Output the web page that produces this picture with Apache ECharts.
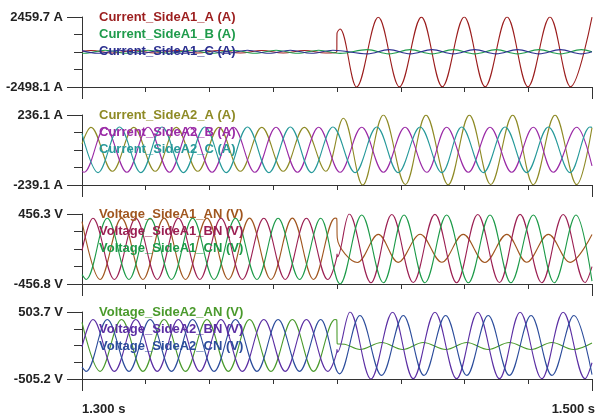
<!DOCTYPE html>
<html>
<head>
<meta charset="utf-8">
<script src="https://cdn.jsdelivr.net/npm/echarts@6/dist/echarts.min.js"></script>
<style>
  html, body { margin: 0; padding: 0; background: #ffffff; }
  #chart { width: 598px; height: 416px; }
</style>
</head>
<body>
<div id="chart"></div>
<script>
// ---- time axis (seconds) ----
const timeMin = 1.3;
const timeMax = 1.5;
const timeInnerTicks = [1.325, 1.35, 1.375, 1.4, 1.425, 1.45, 1.475];
const timeEndTicks = [1.3, 1.5];
const timeLabels = ['1.300 s', '1.500 s'];

// ---- vertical ranges of the four channels ----
const panelMax = [2459.7, 236.1, 456.3, 503.7];
const panelMin = [-2498.1, -239.1, -456.8, -505.2];
const panelTopLabels = ['2459.7 A', '236.1 A', '456.3 V', '503.7 V'];
const panelBottomLabels = ['-2498.1 A', '-239.1 A', '-456.8 V', '-505.2 V'];

const panelNames = [
  ['Current_SideA1_A (A)', 'Current_SideA1_B (A)', 'Current_SideA1_C (A)'],
  ['Current_SideA2_A (A)', 'Current_SideA2_B (A)', 'Current_SideA2_C (A)'],
  ['Voltage_SideA1_AN (V)', 'Voltage_SideA1_BN (V)', 'Voltage_SideA1_CN (V)'],
  ['Voltage_SideA2_AN (V)', 'Voltage_SideA2_BN (V)', 'Voltage_SideA2_CN (V)']
];

// ---- recorded waveforms: [time s, value] at peaks, troughs and the fault step ----
const curA1_A = [[1.3000, 25], [1.3035, 90], [1.3119, -88], [1.3203, 92], [1.3287, -90], [1.3370, 90], [1.3454, -92], [1.3537, 88], [1.3621, -90], [1.3705, 90], [1.3789, -88], [1.3872, 92], [1.3956, -90], [1.3999, -10], [1.4000, 1300], [1.4012, 1607], [1.4077, -2498.1], [1.4162, 2440], [1.4245, -2488], [1.4331, 2450], [1.4413, -2484], [1.4499, 2455], [1.4581, -2480], [1.4667, 2459.7], [1.4749, -2478], [1.4835, 2457], [1.4916, -2476], [1.5000, 2450]];
const curA1_B = [[1.3000, -105], [1.3008, -110], [1.3091, 110], [1.3176, -110], [1.3259, 110], [1.3343, -110], [1.3426, 110], [1.3510, -110], [1.3594, 110], [1.3678, -110], [1.3761, 110], [1.3845, -110], [1.3928, 110], [1.4012, -120], [1.4119, 150], [1.4204, -150], [1.4287, 150], [1.4373, -150], [1.4456, 150], [1.4540, -150], [1.4624, 150], [1.4708, -150], [1.4792, 150], [1.4876, -150], [1.4958, 150], [1.5000, 0]];
const curA1_C = [[1.3000, 80], [1.3063, -110], [1.3147, 110], [1.3231, -110], [1.3314, 110], [1.3398, -110], [1.3482, 110], [1.3566, -110], [1.3649, 110], [1.3733, -110], [1.3817, 110], [1.3900, -110], [1.3984, 110], [1.4119, -150], [1.4204, 150], [1.4287, -150], [1.4373, 150], [1.4456, -150], [1.4540, 150], [1.4624, -150], [1.4708, 150], [1.4792, -150], [1.4876, 150], [1.4958, -150], [1.5000, 0]];

const curA2_A = [[1.3000, 40], [1.3035, 152], [1.3119, -146], [1.3203, 152], [1.3287, -146], [1.3370, 152], [1.3454, -146], [1.3537, 152], [1.3621, -146], [1.3705, 152], [1.3789, -146], [1.3872, 152], [1.3956, -146], [1.4025, 214], [1.4101, -239.1], [1.4182, 236.1], [1.4268, -236], [1.4349, 235], [1.4436, -237], [1.4519, 235], [1.4603, -236], [1.4689, 235], [1.4770, -237], [1.4855, 235], [1.4940, -236], [1.5000, 150]];
const curA2_B = [[1.3000, -148], [1.3008, -153], [1.3091, 153], [1.3176, -153], [1.3259, 153], [1.3343, -153], [1.3426, 153], [1.3510, -153], [1.3594, 153], [1.3678, -153], [1.3761, 153], [1.3845, -153], [1.3928, 153], [1.4012, -153], [1.4097, 153], [1.4182, -153], [1.4267, 153], [1.4352, -153], [1.4430, 153], [1.4515, -153], [1.4600, 153], [1.4685, -153], [1.4770, 153], [1.4848, -153], [1.4940, 153], [1.5000, -110]];
const curA2_C = [[1.3000, 110], [1.3063, -155], [1.3147, 155], [1.3231, -155], [1.3314, 155], [1.3398, -155], [1.3482, 155], [1.3566, -155], [1.3649, 155], [1.3733, -155], [1.3817, 155], [1.3900, -155], [1.3984, 155], [1.4071, -155], [1.4156, 155], [1.4240, -155], [1.4326, 155], [1.4411, -155], [1.4489, 155], [1.4574, -155], [1.4659, 155], [1.4744, -155], [1.4829, 155], [1.4914, -155], [1.4992, 155], [1.5000, 152]];

const voltA1_AN = [[1.3000, 356], [1.3071, -398], [1.3155, 402], [1.3239, -398], [1.3322, 402], [1.3406, -398], [1.3490, 402], [1.3574, -398], [1.3657, 402], [1.3741, -398], [1.3825, 402], [1.3908, -398], [1.3992, 402], [1.3999, 396], [1.4001, 143], [1.4080, -176], [1.4162, 190], [1.4240, -175], [1.4326, 192], [1.4411, -174], [1.4495, 190], [1.4580, -176], [1.4666, 191], [1.4744, -174], [1.4829, 190], [1.4914, -175], [1.5000, 190]];
const voltA1_BN = [[1.3000, -20], [1.3043, 400], [1.3127, -398], [1.3211, 400], [1.3295, -398], [1.3378, 400], [1.3462, -398], [1.3545, 400], [1.3629, -398], [1.3713, 400], [1.3797, -398], [1.3880, 400], [1.3964, -398], [1.3999, -110], [1.4000, -65], [1.4002, -100], [1.4048, 456.3], [1.4133, -440], [1.4215, 450], [1.4299, -438], [1.4384, 452], [1.4469, -440], [1.4552, 450], [1.4637, -438], [1.4718, 452], [1.4803, -440], [1.4887, 450], [1.4973, -438], [1.5000, -230]];
const voltA1_CN = [[1.3000, -334], [1.3016, -398], [1.3099, 400], [1.3184, -398], [1.3267, 400], [1.3351, -398], [1.3434, 400], [1.3518, -398], [1.3602, 400], [1.3686, -398], [1.3769, 400], [1.3853, -398], [1.3936, 400], [1.4012, -456.8], [1.4097, 443], [1.4182, -440], [1.4263, 444], [1.4345, -440], [1.4430, 443], [1.4515, -440], [1.4600, 444], [1.4682, -440], [1.4770, 443], [1.4852, -440], [1.4937, 444], [1.5000, -420]];

const voltA2_AN = [[1.3000, 347], [1.3071, -390], [1.3155, 390], [1.3239, -390], [1.3322, 390], [1.3406, -390], [1.3490, 390], [1.3574, -390], [1.3657, 390], [1.3741, -390], [1.3825, 390], [1.3908, -390], [1.3992, 390], [1.3999, 386], [1.4001, 25], [1.4030, 18], [1.4090, -60], [1.4175, 45], [1.4258, -60], [1.4338, 45], [1.4427, -60], [1.4509, 45], [1.4593, -60], [1.4676, 45], [1.4761, -60], [1.4843, 45], [1.4927, -60], [1.5000, 38]];
const voltA2_BN = [[1.3000, -20], [1.3043, 390], [1.3127, -390], [1.3211, 390], [1.3295, -390], [1.3378, 390], [1.3462, -390], [1.3545, 390], [1.3629, -390], [1.3713, 390], [1.3797, -390], [1.3880, 390], [1.3964, -390], [1.3999, -105], [1.4000, -60], [1.4002, -100], [1.4051, 503.7], [1.4133, -505.2], [1.4218, 500], [1.4299, -500], [1.4384, 500], [1.4469, -500], [1.4552, 500], [1.4637, -500], [1.4718, 500], [1.4803, -500], [1.4887, 500], [1.4973, -500], [1.5000, -260]];
const voltA2_CN = [[1.3000, -326], [1.3016, -390], [1.3099, 390], [1.3184, -390], [1.3267, 390], [1.3351, -390], [1.3434, 390], [1.3518, -390], [1.3602, 390], [1.3686, -390], [1.3769, 390], [1.3853, -390], [1.3936, 390], [1.4010, -428], [1.4090, 451], [1.4175, -451], [1.4260, 451], [1.4341, -451], [1.4426, 451], [1.4509, -451], [1.4593, 451], [1.4676, -451], [1.4761, 451], [1.4843, -451], [1.4929, 451], [1.5000, -440]];

const panelData = [
  [curA1_A, curA1_B, curA1_C],
  [curA2_A, curA2_B, curA2_C],
  [voltA1_AN, voltA1_BN, voltA1_CN],
  [voltA2_AN, voltA2_BN, voltA2_CN]
];

// ---- look ----
const panelColors = [
  ['#9b1d1d', '#1e9b4b', '#2b2f8f'],
  ['#8e8a25', '#9a2aa6', '#26999a'],
  ['#a0561f', '#9b1f52', '#1c9a48'],
  ['#4a9a2c', '#5b2ea3', '#2b4c9b']
];
const panelTops = [17, 115, 214, 312];
const panelHeight = 70;
const plotLeft = 82;
const plotRight = 6;
const axisColor = '#333333';
const labelFont = 'Liberation Sans, Arial, Helvetica, sans-serif';

const grids = [], xAxes = [], yAxes = [], series = [], texts = [];

panelTops.forEach((top, p) => {
  grids.push({ left: plotLeft, right: plotRight, top: top, height: panelHeight });

  const isLast = p === panelTops.length - 1;
  // short time ticks along the baseline
  xAxes.push({
    gridIndex: p, type: 'value', min: timeMin, max: timeMax, position: 'bottom',
    axisLine: { show: true, onZero: false, lineStyle: { color: axisColor, width: 1 } },
    axisTick: { show: true, length: 5, customValues: timeInnerTicks, lineStyle: { color: axisColor } },
    axisLabel: { show: false }, splitLine: { show: false }
  });
  // long ticks at both ends of the time range (labels on the lowest channel only)
  xAxes.push({
    gridIndex: p, type: 'value', min: timeMin, max: timeMax, position: 'bottom',
    axisLine: { show: false, onZero: false },
    axisTick: { show: true, length: 12, customValues: timeEndTicks, lineStyle: { color: axisColor } },
    axisLabel: isLast ? {
      show: true, customValues: timeEndTicks, margin: 24,
      alignMinLabel: 'left', alignMaxLabel: 'right',
      color: '#222', fontFamily: labelFont, fontWeight: 'bold', fontSize: 13,
      padding: [0, -3, 0, 0],
      formatter: (v) => (Math.abs(v - timeMin) < 1e-9 ? timeLabels[0] : timeLabels[1])
    } : { show: false },
    splitLine: { show: false }
  });

  const lo = panelMin[p], hi = panelMax[p];
  const step = (hi - lo) / 4;
  yAxes.push({
    gridIndex: p, type: 'value', min: lo, max: hi, position: 'left',
    axisLine: { show: true, onZero: false, lineStyle: { color: axisColor, width: 1 } },
    axisTick: { show: true, length: 8, customValues: [lo + step, lo + 2 * step, lo + 3 * step], lineStyle: { color: axisColor } },
    axisLabel: { show: false }, splitLine: { show: false }
  });
  yAxes.push({
    gridIndex: p, type: 'value', min: lo, max: hi, position: 'left',
    axisLine: { show: false, onZero: false },
    axisTick: { show: true, length: 15, customValues: [lo, hi], lineStyle: { color: axisColor } },
    axisLabel: {
      show: true, customValues: [lo, hi], margin: 19,
      color: '#222', fontFamily: labelFont, fontWeight: 'bold', fontSize: 13,
      formatter: (v) => (Math.abs(v - hi) < 1e-6 ? panelTopLabels[p] : panelBottomLabels[p])
    },
    splitLine: { show: false }
  });

  panelData[p].forEach((data, k) => {
    series.push({
      name: panelNames[p][k], type: 'line',
      xAxisIndex: 2 * p, yAxisIndex: 2 * p,
      data: data, showSymbol: false, smooth: 0.36,
      lineStyle: { color: panelColors[p][k], width: 1.1 },
      itemStyle: { color: panelColors[p][k] },
      clip: true, animation: false, silent: true
    });
    texts.push({
      type: 'text', x: 99, y: top + k * 17, z: 100,
      style: {
        text: panelNames[p][k], fill: panelColors[p][k],
        font: 'bold 13px ' + labelFont, verticalAlign: 'middle', align: 'left'
      }
    });
  });
});

const chart = echarts.init(document.getElementById('chart'), null, { renderer: 'canvas', width: 598, height: 416 });
chart.setOption({
  backgroundColor: '#ffffff',
  animation: false,
  grid: grids,
  xAxis: xAxes,
  yAxis: yAxes,
  series: series,
  graphic: texts
});
</script>
</body>
</html>
